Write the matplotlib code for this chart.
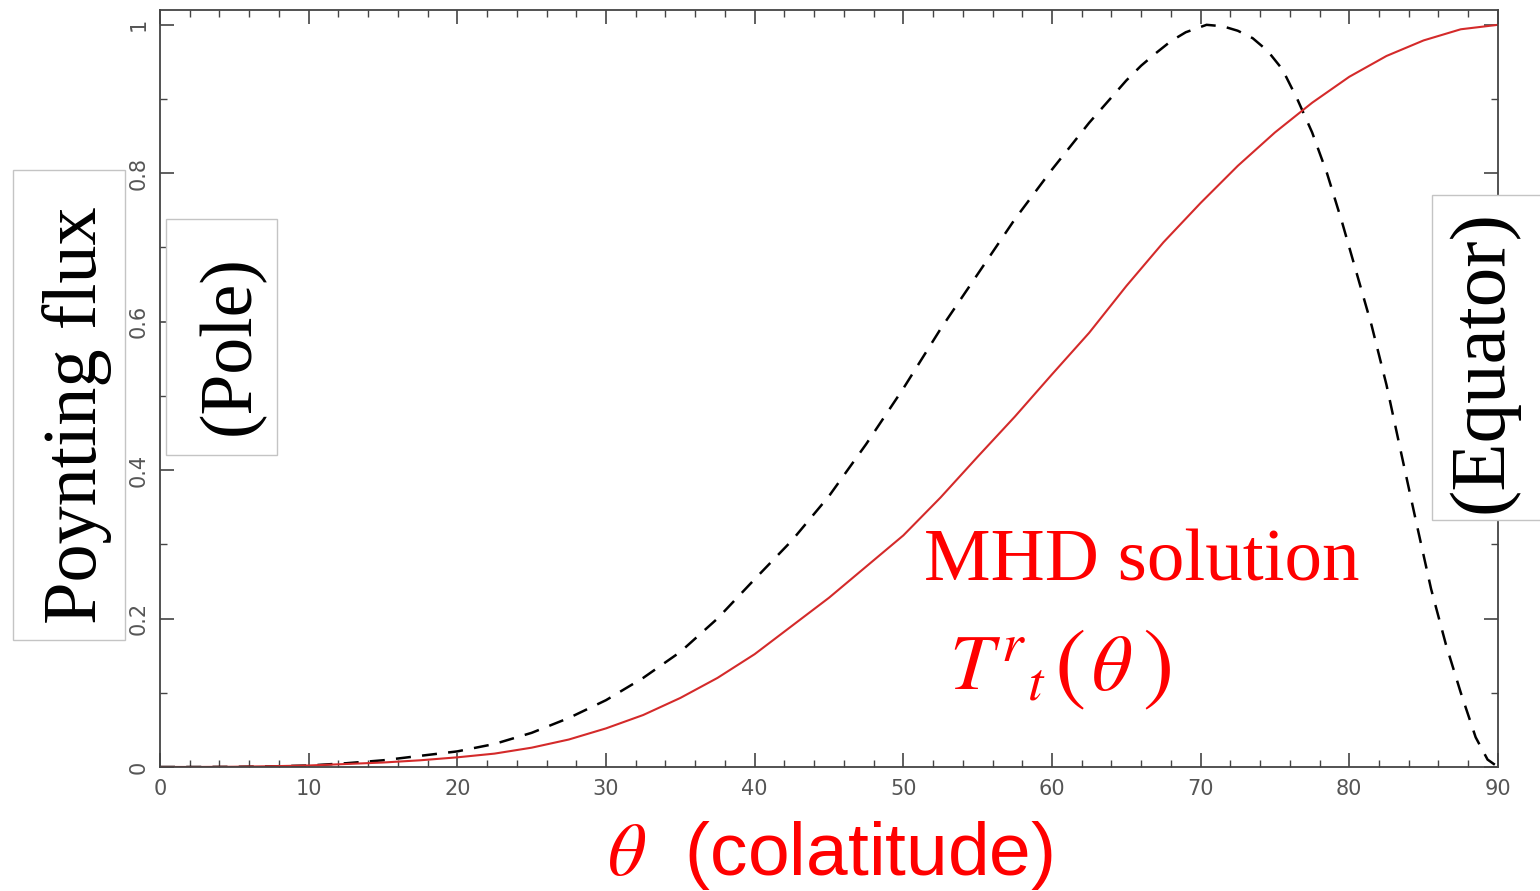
import matplotlib
matplotlib.use("Agg")
import matplotlib.pyplot as plt
from matplotlib.patches import Rectangle
from matplotlib.ticker import MultipleLocator

plt.rcParams['mathtext.fontset'] = 'stix'

# colatitude in degrees
theta = [0, 2.5, 5, 7.5, 10, 12.5, 15, 17.5, 20, 22.5, 25, 27.5, 30, 32.5, 35,
         37.5, 40, 42.5, 45, 47.5, 50, 52.5, 55, 57.5, 60, 62.5, 65, 67.5, 70,
         72.5, 75, 77.5, 80, 82.5, 85, 87.5, 90]
# MHD solution (red)
mhd_flux = [0, 0, 0.0003, 0.001, 0.002, 0.004, 0.006, 0.009, 0.013, 0.018,
            0.026, 0.037, 0.052, 0.07, 0.093, 0.12, 0.152, 0.19, 0.228, 0.27,
            0.312, 0.363, 0.418, 0.472, 0.529, 0.585, 0.648, 0.707, 0.76,
            0.81, 0.855, 0.895, 0.93, 0.958, 0.979, 0.994, 1.0]

# comparison profile (dashed)
theta_d = [0, 2.5, 5, 7.5, 10, 12.5, 15, 17.5, 20, 22.5, 25, 27.5, 30, 32.5,
           35, 37.5, 40, 42.5, 45, 47.5, 50, 52.5, 55, 57.5, 60, 62.5, 65,
           66, 67, 68, 69, 70.4, 71.5, 72.5, 73.5, 74.5, 75.5, 76.5, 77.5,
           78.5, 79.5, 80.5, 81.5, 82.5, 83.5, 84.5, 85.5, 86.5, 87.5, 88.5,
           89.3, 90]
dash_flux = [0, 0, 0.0002, 0.0008, 0.002, 0.005, 0.009, 0.015, 0.021, 0.031,
             0.046, 0.066, 0.09, 0.12, 0.155, 0.2, 0.253, 0.305, 0.365, 0.435,
             0.51, 0.59, 0.664, 0.738, 0.805, 0.868, 0.925,
             0.945, 0.962, 0.978, 0.99, 1.0, 0.998, 0.992, 0.982, 0.965,
             0.94, 0.9, 0.855, 0.8, 0.735, 0.665, 0.595, 0.515, 0.422, 0.33,
             0.24, 0.165, 0.1, 0.04, 0.01, 0]

fig = plt.figure(figsize=(15.4, 8.91), dpi=100)
ax = fig.add_axes([0.1039, 0.1392, 0.8688, 0.8496])

ax.plot(theta_d, dash_flux, color='black', lw=1.8, linestyle=(0, (6, 4.5)))
ax.plot(theta, mhd_flux, color='#d42a2a', lw=1.5)

ax.set_xlim(0, 90)
ax.set_ylim(0, 1.02)
ax.xaxis.set_major_locator(MultipleLocator(10))
ax.xaxis.set_minor_locator(MultipleLocator(2))
ax.set_yticks([0, 0.2, 0.4, 0.6, 0.8, 1.0])
ax.set_yticklabels(['0', '0.2', '0.4', '0.6', '0.8', '1'], rotation=90, va='center')
ax.yaxis.set_minor_locator(MultipleLocator(0.1))
ax.tick_params(which='both', direction='in', top=True, right=True,
               colors='#444444', labelcolor='#555555', labelsize=15)
ax.tick_params(which='major', length=10, width=1.2)
ax.tick_params(which='minor', length=5, width=1.0)
ax.tick_params(axis='x', pad=9)
ax.tick_params(axis='y', pad=8)
for s in ax.spines.values():
    s.set_color('#444444')
    s.set_linewidth(1.3)

# framed side labels
for x0, y0, w, h in [(0.0084, 0.2817, 0.0727, 0.5275),
                     (0.1078, 0.4893, 0.0721, 0.2649),
                     (0.9299, 0.4164, 0.0750, 0.3648)]:
    fig.patches.append(Rectangle((x0, y0), w, h, transform=fig.transFigure,
                                 facecolor='white', edgecolor='#c4c4c4', lw=1))

fig.text(0.0500, 0.534, 'Poynting flux', rotation=90, ha='center', va='center',
         family='Liberation Serif', fontsize=55)
fig.text(0.1500, 0.613, '(Pole)', rotation=90, ha='center', va='center',
         family='Liberation Serif', fontsize=53)
fig.text(0.9630, 0.594, '(Equator)', rotation=90, ha='center', va='center',
         family='Liberation Serif', fontsize=57)

fig.text(0.600, 0.349, 'MHD solution', color='red', family='Liberation Serif',
         fontsize=54, ha='left', va='baseline')

# T^r_t(theta) with tall parentheses
fig.text(0.6165, 0.2256, r'$T^{r}{}_{t}$', color='red', fontsize=57,
         ha='left', va='baseline')
fig.text(0.6850, 0.2470, '(', color='red', family='STIXGeneral', fontsize=68,
         ha='left', va='center')
fig.text(0.7085, 0.2256, r'$\theta$', color='red', fontsize=57,
         ha='left', va='baseline')
fig.text(0.7420, 0.2470, ')', color='red', family='STIXGeneral', fontsize=68,
         ha='left', va='center')

fig.text(0.539, 0.040, r'$\theta$  (colatitude)', color='red',
         family='Liberation Sans', fontsize=54, ha='center', va='center')

fig.savefig('out.png', dpi=100)
